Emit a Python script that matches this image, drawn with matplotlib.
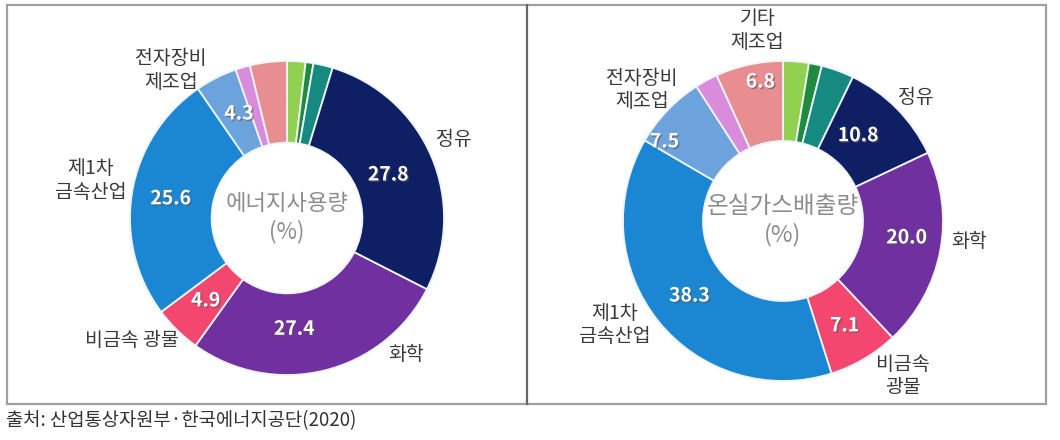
import matplotlib
matplotlib.use("Agg")
import matplotlib.pyplot as plt
import matplotlib.patheffects as pe
from matplotlib.patches import Rectangle
from matplotlib.lines import Line2D
import numpy as np

plt.rcParams["font.family"] = ["Noto Sans CJK KR", "DejaVu Sans"]

# segment order: clockwise from 12 o'clock
colors = ["#92D050", "#1F8B3F", "#168A80", "#0E1F63", "#7030A0",
          "#F3476F", "#1B87D2", "#6CA3DD", "#D98BDC", "#E88D90"]

energy_values = [1.9, 0.8, 2.0, 27.8, 27.4, 4.9, 25.6, 4.3, 1.5, 3.8]
ghg_values = [2.6, 1.3, 3.3, 10.8, 20.0, 7.1, 38.3, 7.5, 2.3, 6.8]

# which segments carry a value label inside the ring
energy_shown = [3, 4, 5, 6, 7]
ghg_shown = [3, 4, 5, 6, 7, 9]

energy_labels = ["정유", "화학", "비금속 광물", "제1차\n금속산업", "전자장비\n제조업"]
ghg_labels = ["정유", "화학", "비금속\n광물", "제1차\n금속산업", "전자장비\n제조업", "기타\n제조업"]

energy_center = "에너지사용량\n(%)"
ghg_center = "온실가스배출량\n(%)"
source_text = "출처: 산업통상자원부·한국에너지공단(2020)"

W, H = 1060, 440
fig = plt.figure(figsize=(W / 100, H / 100), dpi=100)

# outer frame and divider
bg = fig.add_axes([0, 0, 1, 1])
bg.set_xlim(0, W)
bg.set_ylim(H, 0)
bg.axis("off")
bg.add_patch(Rectangle((7, 5), 1039, 399, fill=False, edgecolor="#A0A0A0", lw=1.6))
bg.add_line(Line2D([527, 527], [5, 404], color="#666666", lw=1.6))
bg.text(6, 421, source_text, fontsize=13.5, color="#333333", va="center", ha="left")


def donut(cx, cy, r, values, shown, labels, label_pos, placement, center, center_size, inner):
    ax = fig.add_axes([(cx - r) / W, 1 - (cy + r) / H, 2 * r / W, 2 * r / H])
    ax.set_aspect("equal")
    ax.axis("off")
    wedges, _ = ax.pie(values, colors=colors, startangle=90, counterclock=False,
                       radius=1, wedgeprops=dict(width=1 - inner, edgecolor="#EEF4FA", lw=1.3))
    ax.set_xlim(-1, 1)
    ax.set_ylim(-1, 1)
    shadow = [pe.SimplePatchShadow(offset=(1, -1), shadow_rgbFace="#555555", alpha=0.6), pe.Normal()]
    for i, (nudge, rr) in zip(shown, placement):
        w = wedges[i]
        ang = np.deg2rad((w.theta1 + w.theta2) / 2 + nudge)
        ax.text(rr * np.cos(ang), rr * np.sin(ang), f"{values[i]:.1f}", ha="center", va="center",
                color="white", fontsize=14, fontweight="bold", path_effects=shadow)
    for text, (x, y) in zip(labels, label_pos):
        ax.text(x, y, text, ha="center", va="center", fontsize=14, color="#3A3A3A",
                linespacing=1.15, clip_on=False)
    ax.text(0, 0, center, ha="center", va="center", fontsize=center_size, color="#8C8C8C",
            linespacing=1.25)


donut(287, 218, 157, energy_values, energy_shown, energy_labels,
      [(1.06, 0.50), (0.76, -0.87), (-0.99, -0.78), (-1.25, 0.24), (-0.74, 0.94)],
      [(0, 0.70), (-10, 0.71), (0, 0.74), (0, 0.75), (-2, 0.73)],
      energy_center, 16, 0.48)

donut(783, 221, 160, ghg_values, ghg_shown, ghg_labels,
      [(0.83, 0.77), (1.16, -0.13), (0.75, -0.97), (-1.05, -0.65), (-0.88, 0.82), (-0.16, 1.19)],
      [(4, 0.71), (3, 0.78), (0, 0.76), (0, 0.75), (10, 0.89), (-3, 0.88)],
      ghg_center, 17, 0.50)

fig.savefig("out.png", dpi=100)
